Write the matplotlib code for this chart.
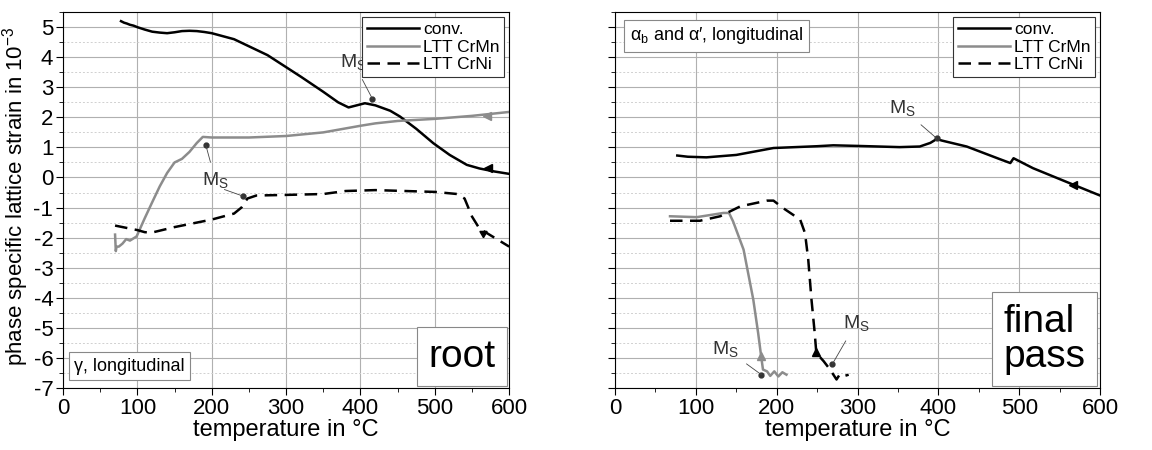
import numpy as np
import matplotlib.pyplot as plt
from matplotlib.ticker import MultipleLocator

plt.rcParams['font.family'] = ['Liberation Sans', 'DejaVu Sans']
plt.rcParams['mathtext.fontset'] = 'custom'
plt.rcParams['mathtext.rm'] = 'Liberation Sans'
plt.rcParams['mathtext.it'] = 'Liberation Sans'
plt.rcParams['axes.unicode_minus'] = False

# root, gamma phase
root_conv_t = [78, 82, 86, 90, 95, 100, 110, 120, 130, 140, 150, 160, 170, 180, 190, 200, 230, 275,
               320, 350, 370, 384, 395, 406, 420, 440, 453, 475, 498, 520, 543, 560, 580, 600]
root_conv_e = [5.2, 5.15, 5.12, 5.08, 5.05, 5.0, 4.92, 4.85, 4.82, 4.8, 4.83, 4.87, 4.88, 4.87, 4.84, 4.8,
               4.6, 4.07, 3.35, 2.85, 2.5, 2.33, 2.4, 2.47, 2.4, 2.22, 2.03, 1.62, 1.14, 0.75, 0.42, 0.3, 0.2, 0.12]
root_crmn_t = [70, 71, 72, 75, 80, 85, 90, 99, 110, 120, 130, 140, 150, 160, 170, 180, 188, 200, 250,
               300, 350, 400, 420, 450, 500, 550, 600]
root_crmn_e = [-1.9, -2.45, -2.3, -2.3, -2.2, -2.05, -2.1, -1.96, -1.35, -0.82, -0.3, 0.15, 0.5, 0.62, 0.85,
               1.15, 1.35, 1.33, 1.33, 1.38, 1.5, 1.72, 1.8, 1.88, 1.95, 2.05, 2.18]
root_crni_t = [70, 80, 90, 100, 110, 120, 150, 180, 200, 230, 240, 248, 260, 300, 350, 380, 420,
               460, 500, 530, 540, 550, 560, 580, 600]
root_crni_e = [-1.6, -1.65, -1.7, -1.75, -1.82, -1.83, -1.65, -1.5, -1.4, -1.2, -1.0, -0.7, -0.6, -0.58,
               -0.55, -0.45, -0.42, -0.45, -0.48, -0.55, -0.7, -1.3, -1.7, -2.0, -2.3]

# final pass, alpha_b / alpha'
fin_conv_t = [77, 90, 113, 150, 196, 250, 270, 300, 352, 377, 390, 398, 404, 435, 476, 489, 493,
              517, 567, 600]
fin_conv_e = [0.73, 0.69, 0.67, 0.75, 0.98, 1.04, 1.07, 1.05, 1.01, 1.03, 1.15, 1.28, 1.23, 1.03, 0.61,
              0.48, 0.64, 0.31, -0.24, -0.6]
fin_crmn_t = [68, 101, 134, 141, 146, 159, 171, 177, 181, 183, 188, 192, 197, 202, 207, 212]
fin_crmn_e = [-1.29, -1.32, -1.18, -1.18, -1.46, -2.4, -4.06, -5.17, -6.0, -6.39, -6.45, -6.6, -6.45,
              -6.62, -6.48, -6.56]
fin_crni_t = [68, 105, 130, 155, 188, 196, 208, 229, 235, 239, 243, 247, 249, 258, 266, 274, 278,
              283, 289]
fin_crni_e = [-1.44, -1.44, -1.29, -0.96, -0.77, -0.77, -1.02, -1.4, -1.85, -2.73, -4.06, -5.17,
              -5.84, -6.11, -6.39, -6.72, -6.55, -6.61, -6.56]

gray = '#8c8c8c'
fig = plt.figure(figsize=(11.52, 4.5), dpi=100)
ax1 = fig.add_axes([0.0547, 0.138, 0.3873, 0.835])
ax2 = fig.add_axes([0.5339, 0.138, 0.4210, 0.835])

for ax in (ax1, ax2):
    ax.set_xlim(0, 600)
    ax.set_ylim(-7, 5.5)
    ax.xaxis.set_major_locator(MultipleLocator(100))
    ax.xaxis.set_minor_locator(MultipleLocator(50))
    ax.yaxis.set_major_locator(MultipleLocator(1))
    ax.yaxis.set_minor_locator(MultipleLocator(0.5))
    ax.grid(which='major', color='#b0b0b0', lw=0.8)
    ax.grid(which='minor', axis='y', color='#d0d0d0', lw=0.7, ls=(0, (2, 2)))
    ax.tick_params(which='both', direction='out', labelsize=16, pad=2)
    ax.tick_params(which='major', length=5)
    ax.tick_params(which='minor', length=3)
    ax.set_xlabel('temperature in °C', fontsize=17, labelpad=0)
    ax.set_axisbelow(True)

ax2.set_yticklabels([])
ax1.set_ylabel('phase specific lattice strain in 10$^{-3}$', fontsize=16)
ax1.yaxis.set_label_coords(-0.072, 0.51)


def draw(ax, ct, ce, mt, me, nt, ne):
    ax.plot(ct, ce, color='black', lw=1.8, label='conv.')
    ax.plot(mt, me, color=gray, lw=1.8, label='LTT CrMn')
    ax.plot(nt, ne, color='black', lw=1.8, ls=(0, (5, 3)), label='LTT CrNi')
    leg = ax.legend(loc='upper right', fontsize=12.5, fancybox=False, framealpha=1,
                    edgecolor='#333333', handlelength=3.0, borderaxespad=0.3,
                    labelspacing=0.15, handletextpad=0.25, borderpad=0.25)
    leg.get_frame().set_linewidth(0.8)


draw(ax1, root_conv_t, root_conv_e, root_crmn_t, root_crmn_e, root_crni_t, root_crni_e)
draw(ax2, fin_conv_t, fin_conv_e, fin_crmn_t, fin_crmn_e, fin_crni_t, fin_crni_e)

ms = 'M$_\\mathregular{S}$'
lp = dict(arrowstyle='-', color='#444444', lw=0.6, shrinkA=4, shrinkB=0)

# root Ms points
ax1.plot([416, 192, 242], [2.62, 1.08, -0.62], 'o', color='#333333', ms=3.5)
ax1.annotate(ms, xy=(416, 2.62), xytext=(390, 3.85), fontsize=14, ha='center', va='center',
             color='#333333', arrowprops=lp)
ax1.annotate(ms, xy=(192, 1.08), xytext=(205, -0.1), fontsize=14, ha='center', va='center',
             color='#333333', arrowprops=lp)
ax1.annotate('', xy=(242, -0.62), xytext=(217, -0.4), arrowprops=dict(lp, shrinkA=0))
# direction markers
ax1.plot([572], [0.3], marker='<', color='black', ms=6)
ax1.plot([570], [2.06], marker='<', color=gray, ms=6)
ax1.plot([565], [-1.85], marker=(3, 0, 60), color='black', ms=6)

# final pass Ms points
ax2.plot([398, 181, 269], [1.3, -6.56, -6.2], 'o', color='#333333', ms=3.5)
ax2.annotate(ms, xy=(398, 1.3), xytext=(355, 2.3), fontsize=14, ha='center', va='center',
             color='#333333', arrowprops=lp)
ax2.annotate(ms, xy=(181, -6.56), xytext=(137, -5.7), fontsize=14, ha='center', va='center',
             color='#333333', arrowprops=lp)
ax2.annotate(ms, xy=(269, -6.2), xytext=(298, -4.85), fontsize=14, ha='center', va='center',
             color='#333333', arrowprops=lp)
ax2.plot([567], [-0.24], marker='<', color='black', ms=6)
ax2.plot([181], [-5.95], marker='^', color=gray, ms=6)
ax2.plot([249], [-5.8], marker='^', color='black', ms=6)

box = dict(boxstyle='square,pad=0.3', fc='white', ec='#888888', lw=0.8)
ax1.text(0.025, 0.035, 'γ, longitudinal', transform=ax1.transAxes, fontsize=13, ha='left',
         va='bottom', bbox=box)
ax1.text(0.97, 0.035, 'root', transform=ax1.transAxes, fontsize=28, ha='right',
         va='bottom', bbox=box)
ax2.text(0.03, 0.965, 'α$_\\mathregular{b}$ and α\u2032, longitudinal', transform=ax2.transAxes,
         fontsize=13, ha='left', va='top', bbox=box)
ax2.text(0.97, 0.035, 'final\npass', transform=ax2.transAxes, fontsize=28, ha='right',
         multialignment='left', va='bottom', bbox=box, linespacing=0.95)

fig.savefig('out.png', dpi=100)
